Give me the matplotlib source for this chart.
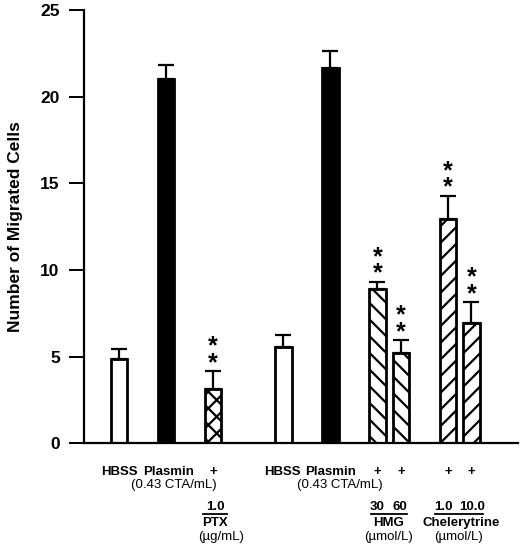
import matplotlib
matplotlib.use("Agg")
import matplotlib.pyplot as plt
from matplotlib.lines import Line2D

plt.rcParams['font.family'] = ['Liberation Sans', 'DejaVu Sans']
plt.rcParams['hatch.linewidth'] = 1.6

# ── data ─────────────────────────────────────────────────────────────────
groups   = ["HBSS", "Plasmin", "PTX 1.0", "HBSS", "Plasmin",
            "HMG 30", "HMG 60", "Chel 1.0", "Chel 10.0"]
means    = [4.86, 21.02, 3.13, 5.57, 21.67, 8.89, 5.19, 12.94, 6.96]
sem      = [0.58, 0.81, 1.04, 0.68, 0.97, 0.44, 0.77, 1.35, 1.21]
signif   = [False, False, True, False, False, True, True, True, True]

# style / layout per bar
xpos     = [0, 2, 4, 7, 9, 11, 12, 14, 15]
fills    = ["white", "black", "white", "white", "black",
            "white", "white", "white", "white"]
hatches  = [None, None, "xx", None, None, "\\\\", "\\\\", "//", "//"]

yticks   = [0, 5, 10, 15, 20, 25]

# ── figure ───────────────────────────────────────────────────────────────
fig = plt.figure(figsize=(5.2, 5.5), dpi=100)
ax = fig.add_axes([0.1615, 0.194, 0.996 - 0.1615, 0.982 - 0.194])

for x, m, e, fc, h in zip(xpos, means, sem, fills, hatches):
    ax.bar(x, m, width=0.71, color=fc, edgecolor="black",
           linewidth=2.0, hatch=h, zorder=2)
    ax.errorbar(x, m, yerr=[[0], [e]], fmt="none", ecolor="black",
                elinewidth=1.6, capsize=5.8, capthick=1.6, zorder=3)

# significance stars (two stacked asterisks)
for x, m, e, s in zip(xpos, means, sem, signif):
    if s:
        ax.annotate("*\n*", xy=(x, m + e), xytext=(0, -3),
                    textcoords="offset points", ha="center", va="bottom",
                    fontsize=18, fontweight="bold", linespacing=0.6)

ax.set_xlim(-1.49, 16.98)
ax.set_ylim(0, 25)
ax.set_yticks(yticks)
ax.set_xticks([])
ax.spines["top"].set_visible(False)
ax.spines["right"].set_visible(False)
ax.spines["left"].set_linewidth(1.6)
ax.spines["bottom"].set_linewidth(1.6)
ax.tick_params(axis="y", direction="out", length=10.5, width=1.4,
               pad=7, labelsize=12.5)
for lbl in ax.get_yticklabels():
    lbl.set_fontweight("bold")

ax.set_ylabel("Number of Migrated Cells", fontsize=12.5, fontweight="bold")
ax.yaxis.set_label_coords(-0.14, 0.5)

# ── labels under the axis ────────────────────────────────────────────────
tr = ax.get_xaxis_transform()
row1_x   = [0, 2.13, 4, 6.94, 9.02, 11, 12, 14, 15]
row1_txt = ["HBSS", "Plasmin", "+", "HBSS", "Plasmin", "+", "+", "+", "+"]
for x, t in zip(row1_x, row1_txt):
    ax.text(x, -0.066, t, transform=tr, ha="center", va="center",
            fontsize=9.5, fontweight="bold")

for x in (2.34, 9.4):
    ax.text(x, -0.096, "(0.43 CTA/mL)", transform=tr, ha="center",
            va="center", fontsize=9.5)

dose_x   = [4.09, 10.98, 11.96, 13.8, 15.02]
dose_txt = ["1.0", "30", "60", "1.0", "10.0"]
for x, t in zip(dose_x, dose_txt):
    ax.text(x, -0.147, t, transform=tr, ha="center", va="center",
            fontsize=9.5, fontweight="bold")

for x0, x1 in [(3.57, 4.6), (10.72, 12.26), (13.45, 15.49)]:
    ax.add_line(Line2D([x0, x1], [-0.162, -0.162], transform=tr,
                       color="black", linewidth=1.3, clip_on=False))

drug_x   = [4.09, 11.49, 14.55]
drug_txt = ["PTX", "HMG", "Chelerytrine"]
unit_x   = [4.34, 11.49, 14.47]
unit_txt = ["(µg/mL)", "(µmol/L)", "(µmol/L)"]
for x, t in zip(drug_x, drug_txt):
    ax.text(x, -0.184, t, transform=tr, ha="center", va="center",
            fontsize=9.5, fontweight="bold")
for x, t in zip(unit_x, unit_txt):
    ax.text(x, -0.216, t, transform=tr, ha="center", va="center",
            fontsize=9.5)

fig.savefig("out.png", dpi=100)
